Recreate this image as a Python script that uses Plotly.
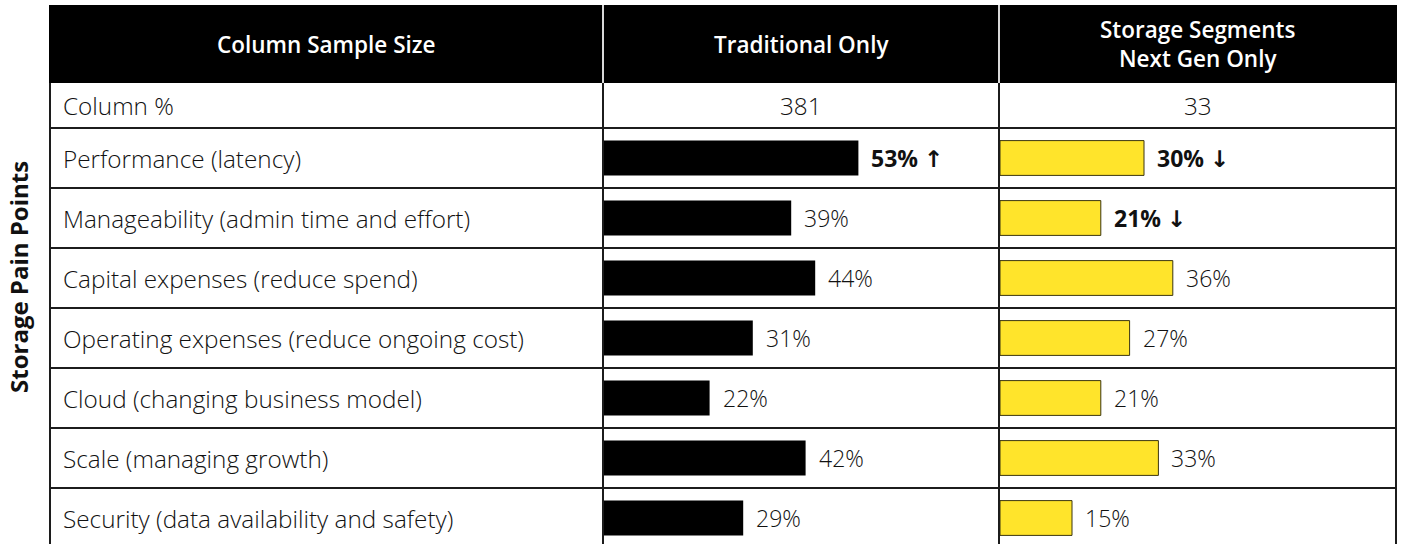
import plotly.graph_objects as go

# --- data -------------------------------------------------------------
pain_points = [
    "Performance (latency)",
    "Manageability (admin time and effort)",
    "Capital expenses (reduce spend)",
    "Operating expenses (reduce ongoing cost)",
    "Cloud (changing business model)",
    "Scale (managing growth)",
    "Security (data availability and safety)",
]
traditional = [53, 39, 44, 31, 22, 42, 29]
next_gen = [30, 21, 36, 27, 21, 33, 15]
# significance markers: "up", "down" or None
traditional_sig = ["up", None, None, None, None, None, None]
next_gen_sig = ["down", "down", None, None, None, None, None]

column_headers = ["Column Sample Size", "Traditional Only", "Storage Segments<br>Next Gen Only"]
sample_row_label = "Column %"
sample_sizes = [381, 33]
axis_title = "Storage Pain Points"

# --- layout geometry (pixels) ----------------------------------------
W, H = 1401, 544
TABLE_L, COL1, COL2, TABLE_R = 50, 603, 999, 1396
HEAD_T, HEAD_B = 5, 83
ROW0, ROW_H = 128, 60
PX_PER_PCT = 4.8

BLACK = "#000000"
YELLOW = "#FFE42B"
GRID = "#1c1c1c"
FONT = "Open Sans"
BODY = 24.3
HEAD = 22.5


def fx(x):
    return x / W


def fy(y):
    return 1 - y / H


# category index -> pixel: centre of row i sits at ROW0 + ROW_H*(i+0.5)
first_centre = ROW0 + ROW_H / 2
y_range = [(H - first_centre) / ROW_H, (0 - first_centre) / ROW_H]

fig = go.Figure()

fig.add_trace(go.Bar(
    y=pain_points, x=traditional, orientation="h",
    marker=dict(color=BLACK, line=dict(width=0)),
    width=0.58, xaxis="x", yaxis="y", hoverinfo="skip",
))
fig.add_trace(go.Bar(
    y=pain_points, x=next_gen, orientation="h",
    marker=dict(color=YELLOW, line=dict(color="#3b3510", width=1)),
    width=0.58, xaxis="x2", yaxis="y", hoverinfo="skip",
))

x1_dom = [fx(COL1 + 1), fx(COL2 - 1)]
x2_dom = [fx(COL2 + 1), fx(TABLE_R - 2)]
x1_max = (COL2 - 1 - (COL1 + 1)) / PX_PER_PCT
x2_max = (TABLE_R - 2 - (COL2 + 1)) / PX_PER_PCT

hidden = dict(showgrid=False, zeroline=False, showticklabels=False,
              showline=False, ticks="", fixedrange=True)

annotations = []

# value labels beside the bars
arrow_glyph = {"up": "\u2191", "down": "\u2193"}
for xref, values, sigs in (("x", traditional, traditional_sig),
                           ("x2", next_gen, next_gen_sig)):
    for cat, v, s in zip(pain_points, values, sigs):
        if s:
            txt = (f"<b>{v}%</b> <span style='font-family:DejaVu Sans;"
                   f"font-weight:bold'>{arrow_glyph[s]}</span>")
            weight = 700
        else:
            txt = f"{v}%"
            weight = 300
        annotations.append(dict(
            x=v, y=cat, xref=xref, yref="y", text=txt, showarrow=False,
            xanchor="left", yanchor="middle", xshift=11,
            font=dict(family=FONT, size=23, color="#111111", weight=weight),
        ))

# row labels
for cat in pain_points:
    annotations.append(dict(
        x=fx(TABLE_L + 11), y=cat, xref="paper", yref="y", text=cat,
        showarrow=False, xanchor="left", yanchor="middle",
        font=dict(family=FONT, size=BODY, color="#111111", weight=300),
    ))

# header cells
head_cy = fy((HEAD_T + HEAD_B) / 2)
col_edges = [TABLE_L, COL1, COL2, TABLE_R]
for i, h in enumerate(column_headers):
    annotations.append(dict(
        x=fx((col_edges[i] + col_edges[i + 1]) / 2), y=head_cy,
        xref="paper", yref="paper", text=h, showarrow=False,
        xanchor="center", yanchor="middle",
        font=dict(family=FONT, size=HEAD, color="white", weight=600),
    ))

# sample-size row
sample_cy = fy((HEAD_B + ROW0) / 2)
annotations.append(dict(
    x=fx(TABLE_L + 11), y=sample_cy, xref="paper", yref="paper",
    text=sample_row_label, showarrow=False, xanchor="left", yanchor="middle",
    font=dict(family=FONT, size=BODY, color="#111111", weight=300),
))
for i, n in enumerate(sample_sizes):
    annotations.append(dict(
        x=fx((col_edges[i + 1] + col_edges[i + 2]) / 2), y=sample_cy,
        xref="paper", yref="paper", text=str(n), showarrow=False,
        xanchor="center", yanchor="middle",
        font=dict(family=FONT, size=BODY, color="#111111", weight=300),
    ))

# vertical axis title
annotations.append(dict(
    x=fx(18), y=fy(277), xref="paper", yref="paper", text=axis_title,
    textangle=-90, showarrow=False, xanchor="center", yanchor="middle",
    font=dict(family=FONT, size=24, color="#111111", weight=700),
))

# table frame
shapes = [
    dict(type="rect", xref="paper", yref="paper", layer="below",
         x0=fx(TABLE_L), x1=fx(TABLE_R), y0=fy(HEAD_T), y1=fy(HEAD_B),
         fillcolor=BLACK, line=dict(width=0)),
]
for k in range(len(pain_points) + 1):
    yy = ROW0 + k * ROW_H
    shapes.append(dict(type="line", xref="paper", yref="paper",
                       x0=fx(TABLE_L), x1=fx(TABLE_R), y0=fy(yy), y1=fy(yy),
                       line=dict(color=GRID, width=2)))
for xx in (TABLE_L, COL1, COL2, TABLE_R):
    shapes.append(dict(type="line", xref="paper", yref="paper",
                       x0=fx(xx), x1=fx(xx), y0=fy(HEAD_B), y1=0,
                       line=dict(color=GRID, width=2)))
for xx in (COL1, COL2):
    shapes.append(dict(type="line", xref="paper", yref="paper",
                       x0=fx(xx), x1=fx(xx), y0=fy(HEAD_T), y1=fy(HEAD_B),
                       line=dict(color="#d8d8d8", width=2)))
for xx in (TABLE_L, TABLE_R):
    shapes.append(dict(type="line", xref="paper", yref="paper",
                       x0=fx(xx), x1=fx(xx), y0=fy(HEAD_T), y1=fy(HEAD_B),
                       line=dict(color=BLACK, width=2)))

fig.update_layout(
    width=W, height=H,
    margin=dict(l=0, r=0, t=0, b=0),
    paper_bgcolor="white", plot_bgcolor="rgba(0,0,0,0)",
    showlegend=False, barmode="overlay",
    xaxis=dict(domain=x1_dom, range=[0, x1_max], anchor="y", **hidden),
    xaxis2=dict(domain=x2_dom, range=[0, x2_max], anchor="y", **hidden),
    yaxis=dict(domain=[0, 1], range=y_range, type="category",
               categoryorder="array", categoryarray=pain_points, **hidden),
    annotations=annotations,
    shapes=shapes,
)

fig.write_html("out.html", config={"displayModeBar": False})
